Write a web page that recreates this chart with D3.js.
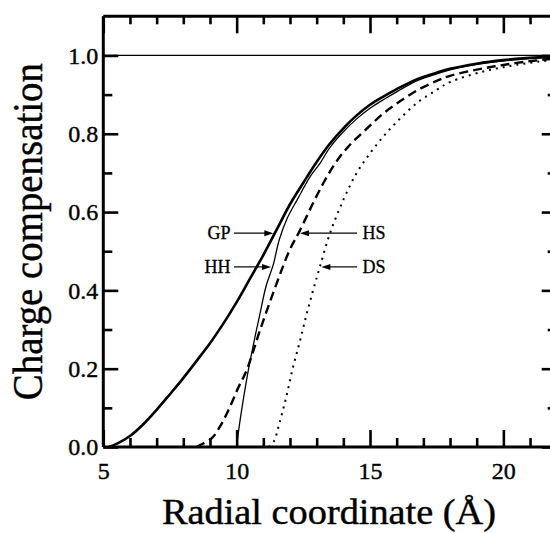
<!DOCTYPE html>
<html>
<head>
<meta charset="utf-8">
<script src="https://cdn.jsdelivr.net/npm/d3@7"></script>
<style>
  html, body { margin: 0; padding: 0; background: #fff; }
  svg { display: block; }
  text { font-family: "Liberation Serif", "Times New Roman", serif; fill: #000; }
</style>
</head>
<body>
<svg id="chart" width="550" height="533"></svg>
<script>
// Radial coordinate (Å) samples and charge compensation for each model
const gpR = [5.2, 5.5, 6.0, 6.5, 7.0, 7.5, 8.0, 8.5, 9.0, 9.5, 10.0, 10.5, 11.0, 11.5, 12.0, 12.5, 13.0, 13.5, 14.0, 14.5, 15.0, 15.5, 16.0, 16.75, 17.5, 18.0, 19.0, 20.0, 21.0, 22.0];
const gpQ = [0.0, 0.008, 0.028, 0.058, 0.095, 0.135, 0.176, 0.22, 0.265, 0.315, 0.37, 0.43, 0.49, 0.555, 0.62, 0.675, 0.728, 0.775, 0.814, 0.847, 0.874, 0.895, 0.914, 0.939, 0.956, 0.966, 0.979, 0.988, 0.994, 0.997];

const hhR = [10.0, 10.05, 10.2, 10.44, 10.7, 10.88, 11.1, 11.37, 11.6, 11.9, 12.3, 12.75, 13.13, 13.5, 14.0, 14.5, 15.0, 15.5, 16.0, 16.75, 17.5, 18.0, 19.0, 20.0, 21.0, 22.0];
const hhQ = [0.0, 0.03, 0.1, 0.197, 0.285, 0.342, 0.41, 0.465, 0.53, 0.585, 0.635, 0.69, 0.725, 0.765, 0.805, 0.838, 0.865, 0.887, 0.907, 0.935, 0.953, 0.963, 0.977, 0.986, 0.992, 0.996];

const hsR = [8.5, 8.63, 9.06, 9.4, 9.75, 10.05, 10.38, 10.88, 11.5, 12.0, 12.35, 12.88, 13.3, 13.75, 14.25, 14.88, 15.5, 16.0, 16.75, 17.5, 18.0, 19.25, 20.5, 22.0];
const hsQ = [0.0, 0.005, 0.022, 0.055, 0.103, 0.15, 0.197, 0.299, 0.418, 0.505, 0.55, 0.625, 0.68, 0.73, 0.772, 0.813, 0.852, 0.877, 0.91, 0.935, 0.948, 0.967, 0.981, 0.993];

const dsR = [11.2, 11.4, 11.6, 11.85, 12.1, 12.37, 12.63, 12.87, 13.12, 13.5, 14.0, 14.5, 15.0, 15.5, 16.0, 16.75, 17.5, 18.0, 19.25, 20.5, 22.0];
const dsQ = [0.0, 0.015, 0.06, 0.125, 0.2, 0.27, 0.341, 0.401, 0.46, 0.546, 0.631, 0.70, 0.75, 0.793, 0.83, 0.878, 0.912, 0.932, 0.959, 0.976, 0.99];

// Series names and the compensation level at which each label arrow meets its curve
const seriesNames = ["GP", "HH", "HS", "DS"];
const labelLevels = [0.546, 0.46, 0.546, 0.46];

// Axis ticks
const xMajorTicks = [5, 10, 15, 20];
const xMinorTicks = [6, 7, 8, 9, 11, 12, 13, 14, 16, 17, 18, 19, 21];
const yMajorTicks = [0.0, 0.2, 0.4, 0.6, 0.8, 1.0];
const yMinorTicks = [0.1, 0.3, 0.5, 0.7, 0.9];
const xDomain = [5, 22];
const yDomain = [0, 1.1];

const FONT = '"Liberation Serif", "Times New Roman", serif';

const svg = d3.select("#chart");
const x = d3.scaleLinear().domain(xDomain).range([103.3, 556.7]);
const y = d3.scaleLinear().domain(yDomain).range([447, 16.3]);

const series = [
  { name: "GP", r: gpR, q: gpQ, width: 2.6, dash: null },
  { name: "HH", r: hhR, q: hhQ, width: 1.3, dash: null },
  { name: "HS", r: hsR, q: hsQ, width: 2.4, dash: "9,5" },
  { name: "DS", r: dsR, q: dsQ, width: 2.0, dash: "2,5" }
];

// Reference level of full compensation
svg.append("line")
  .attr("x1", x(5)).attr("x2", x(22))
  .attr("y1", y(1)).attr("y2", y(1))
  .attr("stroke", "#000").attr("stroke-width", 1.3);

// Curves
const line = d3.line()
  .x(d => x(d[0]))
  .y(d => y(d[1]))
  .curve(d3.curveCatmullRom.alpha(0.5));

series.forEach(s => {
  const pts = s.r.map((r, i) => [r, s.q[i]]);
  svg.append("path")
    .datum(pts)
    .attr("d", line)
    .attr("fill", "none")
    .attr("stroke", "#000")
    .attr("stroke-width", s.width)
    .attr("stroke-dasharray", s.dash)
    .attr("stroke-linejoin", "round");
});

// Axes with inward ticks on all four sides
function styleAxis(g) {
  g.attr("font-family", FONT).attr("font-size", 24);
  g.selectAll("path.domain").attr("stroke", "#000").attr("stroke-width", 3);
  g.selectAll(".tick line").attr("stroke", "#000").attr("stroke-width", 2.6);
  g.selectAll(".tick text")
    .attr("font-family", FONT)
    .style("font-size", "24px")
    .attr("fill", "#000")
    .attr("stroke", "#000")
    .attr("stroke-width", 0.4);
}

function addAxes(axisFn, transform, majors, minors, majorLen, minorLen, pad, labelled) {
  const horizontal = (axisFn === d3.axisBottom || axisFn === d3.axisTop);
  const scale = horizontal ? x : y;
  const gMinor = svg.append("g").attr("transform", transform)
    .call(axisFn(scale).tickValues(minors).tickSizeInner(-minorLen).tickSizeOuter(0).tickFormat(""));
  gMinor.select("path.domain").remove();
  styleAxis(gMinor);
  const gMajor = svg.append("g").attr("transform", transform)
    .call(axisFn(scale).tickValues(majors).tickSizeInner(-majorLen).tickSizeOuter(0)
      .tickPadding(pad)
      .tickFormat(labelled ? (horizontal ? d3.format("d") : d3.format(".1f")) : ""));
  gMajor.select("path.domain").attr("d",
    horizontal
      ? `M${x(xDomain[0])},0H${x(xDomain[1])}`
      : `M0,${y(yDomain[0])}V${y(yDomain[1])}`);
  styleAxis(gMajor);
  return gMajor;
}

addAxes(d3.axisBottom, `translate(0,${y(0)})`, xMajorTicks, xMinorTicks, 17, 9, 15, true);
addAxes(d3.axisTop, `translate(0,${y(1.1)})`, xMajorTicks, xMinorTicks, 17, 8, 4, false);
addAxes(d3.axisLeft, `translate(${x(5)},0)`, yMajorTicks, yMinorTicks, 15, 9, 5, true);
addAxes(d3.axisRight, `translate(${x(22)},0)`, yMajorTicks, yMinorTicks, 15, 9, 4, false);

// Axis titles
svg.append("text")
  .attr("x", (x(5) + x(22)) / 2 - 1)
  .attr("y", 524)
  .attr("text-anchor", "middle")
  .attr("textLength", 334)
  .attr("lengthAdjust", "spacingAndGlyphs")
  .attr("font-family", FONT)
  .attr("stroke", "#000")
  .attr("stroke-width", 0.4)
  .style("font-size", "35px")
  .text("Radial coordinate (Å)");

svg.append("text")
  .attr("transform", `translate(42,${(y(0) + y(1.1)) / 2}) rotate(-90)`)
  .attr("text-anchor", "middle")
  .attr("textLength", 337)
  .attr("lengthAdjust", "spacingAndGlyphs")
  .attr("font-family", FONT)
  .attr("stroke", "#000")
  .attr("stroke-width", 0.4)
  .style("font-size", "42px")
  .text("Charge compensation");

// Radius at which a curve reaches a given compensation level
function radiusAt(s, level) {
  for (let i = 1; i < s.q.length; i++) {
    if (s.q[i] >= level) {
      const t = (level - s.q[i - 1]) / (s.q[i] - s.q[i - 1]);
      return s.r[i - 1] + t * (s.r[i] - s.r[i - 1]);
    }
  }
  return s.r[s.r.length - 1];
}

// Series labels with arrows pointing at their curves
const labelSide = { GP: "left", HH: "left", HS: "right", DS: "right" };
seriesNames.forEach((name, i) => {
  const s = series.find(d => d.name === name);
  const level = labelLevels[i];
  const left = labelSide[name] === "left";
  const tipX = x(radiusAt(s, level)) + (left ? -1.5 : 1.5);
  const ly = y(level);
  const tailX = left ? 234 : 357;
  const dir = left ? 1 : -1;
  svg.append("line")
    .attr("x1", tailX).attr("x2", tipX - dir * 6)
    .attr("y1", ly).attr("y2", ly)
    .attr("stroke", "#000").attr("stroke-width", 1.2);
  svg.append("path")
    .attr("d", `M${tipX},${ly}L${tipX - dir * 9},${ly - 3}L${tipX - dir * 9},${ly + 3}Z`)
    .attr("fill", "#000");
  svg.append("text")
    .attr("x", left ? tailX - 3.5 : tailX + 5.5)
    .attr("y", ly + 6)
    .attr("text-anchor", left ? "end" : "start")
    .attr("font-family", FONT)
    .attr("stroke", "#000")
    .attr("stroke-width", 0.3)
    .style("font-size", "18px")
    .text(name);
});
</script>
</body>
</html>
